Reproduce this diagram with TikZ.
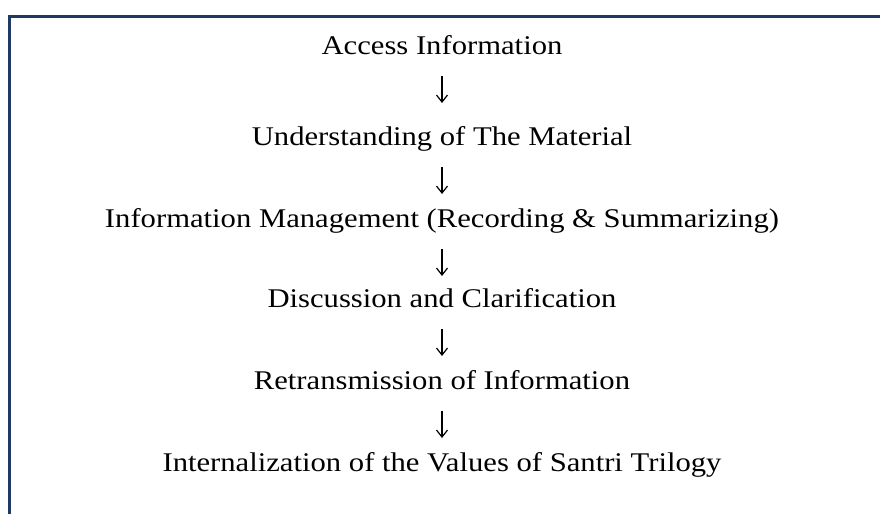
\documentclass[tikz,border=0pt]{standalone}
\usepackage{fontspec}
\setmainfont{Liberation Serif}[FakeStretch=1.135]
\usetikzlibrary{arrows.meta}
\definecolor{framenavy}{HTML}{1F3864}
\begin{document}
\begin{tikzpicture}[x=1pt,y=1pt,
  stage/.style={inner sep=0pt, anchor=base, font=\fontsize{27}{30}\selectfont},
  flow/.style={-{Straight Barb[length=7pt,width=11pt]}, line width=1.2pt, shorten <=22pt}]
\useasboundingbox (0,0) rectangle (880,-514);
\draw[framenavy, line width=3pt] (9.7,-514) -- (9.7,-16) -- (880,-16);
\node[stage] (s1) at (442,-54) {Access Information};
\node[stage] (s2) at (442,-145) {Understanding of The Material};
\node[stage] (s3) at (442,-227) {Information Management (Recording \& Summarizing)};
\node[stage] (s4) at (442,-307) {Discussion and Clarification};
\node[stage] (s5) at (442,-389) {Retransmission of Information};
\node[stage] (s6) at (442,-471) {Internalization of the Values of Santri Trilogy};
\foreach \a/\b/\s in {s1/s2/42,s2/s3/33,s3/s4/31,s4/s5/33,s5/s6/33}
  \draw[flow, shorten >=\s pt] (\a.base) -- (\b.base);
\end{tikzpicture}
\end{document}
